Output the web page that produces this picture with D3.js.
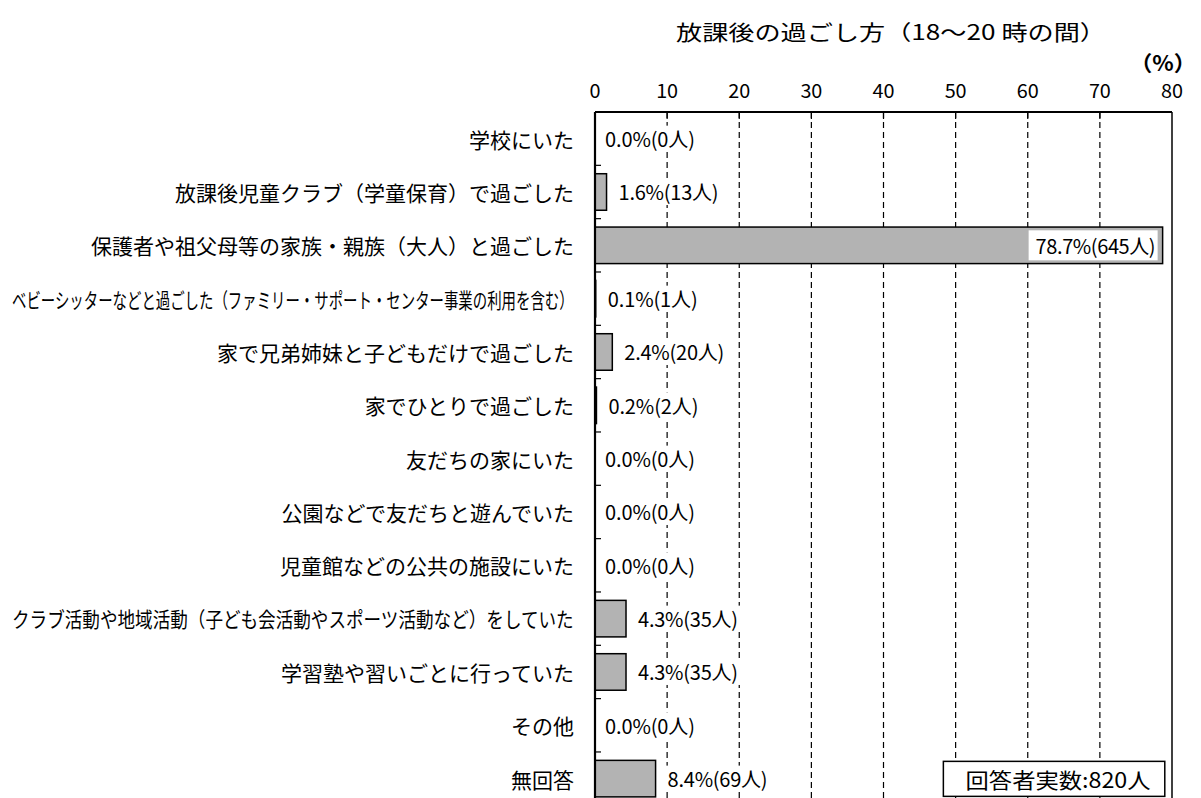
<!DOCTYPE html>
<html><head><meta charset="utf-8">
<script src="https://cdn.jsdelivr.net/npm/d3@7"></script>
<style>
html,body{margin:0;padding:0;background:#fff;}
svg{display:block;}
text{font-family:"Noto Sans CJK JP","Noto Sans",sans-serif;fill:#000;}
</style></head>
<body>
<script>
const title = "放課後の過ごし方（18～20 時の間）";
const unitLabel = "（%）";
const categories = [
  "学校にいた",
  "放課後児童クラブ（学童保育）で過ごした",
  "保護者や祖父母等の家族・親族（大人）と過ごした",
  "ベビーシッターなどと過ごした（ファミリー・サポート・センター事業の利用を含む）",
  "家で兄弟姉妹と子どもだけで過ごした",
  "家でひとりで過ごした",
  "友だちの家にいた",
  "公園などで友だちと遊んでいた",
  "児童館などの公共の施設にいた",
  "クラブ活動や地域活動（子ども会活動やスポーツ活動など）をしていた",
  "学習塾や習いごとに行っていた",
  "その他",
  "無回答"
];
const percents = [0.0, 1.6, 78.7, 0.1, 2.4, 0.2, 0.0, 0.0, 0.0, 4.3, 4.3, 0.0, 8.4];
const counts = [0, 13, 645, 1, 20, 2, 0, 0, 0, 35, 35, 0, 69];
const xTicks = [0, 10, 20, 30, 40, 50, 60, 70, 80];
const noteText = "回答者実数:820人";

(function(){
const W = 1201, H = 798;
const svg = d3.select("body").append("svg").attr("width", W).attr("height", H);

const pl = 595, pr = 1172, pt = 112, step = 53.33;
const pb = pt + step * categories.length;

const x = d3.scaleLinear().domain([0, 80]).range([pl, pr]);
const y = d3.scaleBand().domain(categories).range([pt, pb])
  .paddingInner(0.315).paddingOuter(0.1575);

function ems(s){ let w=0; for(const ch of s){ w += ch.charCodeAt(0) < 0x100 ? 0.5 : 1; } return w; }

// title
svg.append("text").attr("x", 891).attr("y", 31).attr("text-anchor","middle")
  .attr("dominant-baseline","central").attr("font-size", 21)
  .attr("textLength", 430).attr("lengthAdjust","spacingAndGlyphs").text(title);
svg.append("text").attr("x", 1130).attr("y", 62)
  .attr("dominant-baseline","central").attr("font-size", 21).attr("font-weight","bold")
  .attr("textLength", 66).attr("lengthAdjust","spacingAndGlyphs")
  .text(unitLabel);

// x tick labels
svg.append("g").selectAll("text").data(xTicks).join("text")
  .attr("x", d => x(d)).attr("y", 89).attr("text-anchor","middle")
  .attr("dominant-baseline","central").attr("font-size", 19)
  .attr("textLength", d => String(d).length * 11).attr("lengthAdjust","spacingAndGlyphs")
  .text(d => d);

// gridlines
const inner = xTicks.filter(d => d > 0 && d < 80);
svg.append("g").selectAll("line").data(inner).join("line")
  .attr("x1", d => x(d)).attr("x2", d => x(d)).attr("y1", pt).attr("y2", pb)
  .attr("stroke", "#000").attr("stroke-width", 1.2).attr("stroke-dasharray", "6,4");
svg.append("g").selectAll("line").data(inner).join("line")
  .attr("x1", d => x(d)).attr("x2", d => x(d)).attr("y1", pt).attr("y2", pt + 7)
  .attr("stroke", "#000").attr("stroke-width", 1.2);

// frame
svg.append("line").attr("x1", pl).attr("x2", pr).attr("y1", pt).attr("y2", pt)
  .attr("stroke","#000").attr("stroke-width", 2);
svg.append("line").attr("x1", pr).attr("x2", pr).attr("y1", pt).attr("y2", pb)
  .attr("stroke","#000").attr("stroke-width", 1.5);
svg.append("line").attr("x1", pl).attr("x2", pr).attr("y1", pb).attr("y2", pb)
  .attr("stroke","#000").attr("stroke-width", 1.5);

// left axis ticks at row boundaries
const bounds = d3.range(1, categories.length).map(i => pt + i * step);
svg.append("g").selectAll("line").data(bounds).join("line")
  .attr("x1", pl).attr("x2", pl + 6).attr("y1", d => d).attr("y2", d => d)
  .attr("stroke","#000").attr("stroke-width", 1.2);

// bars
svg.append("g").selectAll("rect").data(categories.filter((c,i) => percents[i] > 0)).join("rect")
  .attr("x", pl).attr("y", d => y(d))
  .attr("width", d => x(percents[categories.indexOf(d)]) - pl)
  .attr("height", y.bandwidth())
  .attr("fill", "#b3b3b3").attr("stroke", "#000").attr("stroke-width", 1.5);

// left axis line
svg.append("line").attr("x1", pl).attr("x2", pl).attr("y1", pt).attr("y2", pb)
  .attr("stroke","#000").attr("stroke-width", 2.2);

// category labels
const labelEnd = 574, labelMin = 12, catFont = 21;
svg.append("g").selectAll("text").data(categories).join("text")
  .attr("dominant-baseline","central")
  .attr("font-size", catFont)
  .text(d => d)
  .each(function(d){
    const t = d3.select(this);
    const cy = y(d) + y.bandwidth()/2;
    const natural = this.getComputedTextLength();
    const avail = labelEnd - labelMin;
    if (natural > avail) {
      const sx = avail / natural;
      t.attr("text-anchor","start")
       .attr("transform", `translate(${labelMin},${cy}) scale(${sx},1)`);
    } else {
      t.attr("text-anchor","end").attr("transform", `translate(${labelEnd},${cy})`);
    }
  });

// value labels
const valFont = 20;
const vg = svg.append("g");
categories.forEach((c, i) => {
  const p = percents[i];
  const s = p.toFixed(1) + "%(" + counts[i] + "人)";
  const w = ems(s) * valFont;
  const cy = y(c) + y.bandwidth()/2;
  const end = x(p);
  if (p > 50) {
    vg.append("rect").attr("x", end - w - 14).attr("y", cy - 15).attr("width", w + 9).attr("height", 30)
      .attr("fill", "#fff");
    vg.append("text").attr("x", end - 7).attr("y", cy).attr("text-anchor","end")
      .attr("dominant-baseline","central").attr("font-size", valFont)
      .attr("textLength", w).attr("lengthAdjust","spacing").text(s);
  } else {
    const tx = end + (p > 0 ? 12 : 10);
    vg.append("rect").attr("x", tx - 3).attr("y", cy - 13).attr("width", w + 6).attr("height", 26)
      .attr("fill", "#fff");
    vg.append("text").attr("x", tx).attr("y", cy)
      .attr("dominant-baseline","central").attr("font-size", valFont)
      .attr("textLength", w).attr("lengthAdjust","spacing").text(s);
  }
});

// note box
const ny = y(categories[categories.length-1]);
svg.append("rect").attr("x", x(48.3)).attr("y", ny + 1).attr("width", x(79) - x(48.3)).attr("height", 35)
  .attr("fill","#fff").attr("stroke","#000").attr("stroke-width", 1.5);
svg.append("text").attr("x", (x(48.3) + x(79)) / 2 + 4).attr("y", ny + 19).attr("text-anchor","middle")
  .attr("dominant-baseline","central").attr("font-size", 21)
  .attr("textLength", 185).attr("lengthAdjust","spacingAndGlyphs").text(noteText);
})();
</script>
</body></html>
